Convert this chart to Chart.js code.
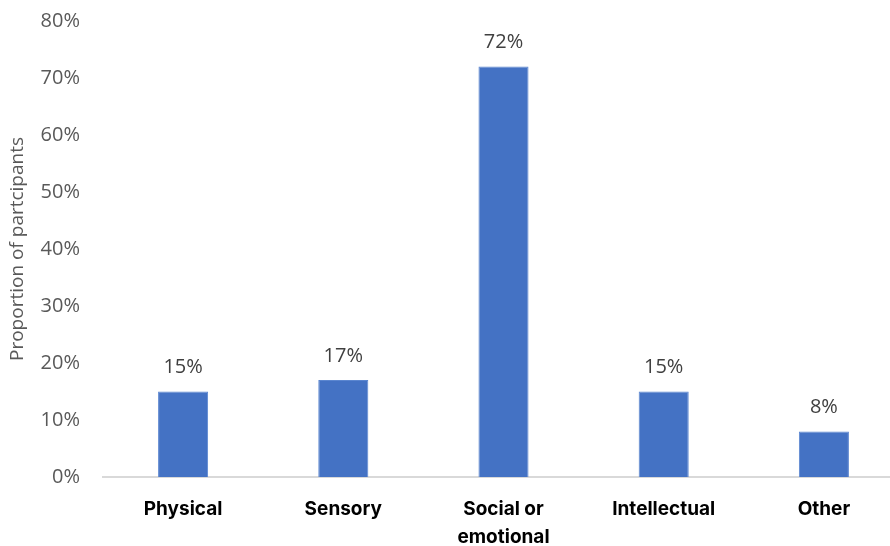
<!DOCTYPE html>
<html>
<head>
<meta charset="utf-8">
<script src="https://cdn.jsdelivr.net/npm/chart.js@4.4.1/dist/chart.umd.min.js"></script>
<style>
  html, body { margin: 0; padding: 0; background: #fff; overflow: hidden; }
  /* el lienzo es algo mas ancho que la ventana: el eje x queda cortado a la derecha */
  #wrap { width: 904px; height: 546px; position: relative; }
</style>
</head>
<body>
<div id="wrap"><canvas id="myChart"></canvas></div>
<script>
const categorias = ["Physical", "Sensory", ["Social or", "emotional"], "Intellectual", "Other"];
const porcentajes = [15, 17, 72, 15, 8];
const ticksY = [0, 10, 20, 30, 40, 50, 60, 70, 80];

(() => {
    const ctx = document.getElementById('myChart').getContext('2d');

    // etiquetas con el valor encima de cada barra
    const etiquetasBarras = {
        id: 'etiquetasBarras',
        afterDatasetsDraw(chart) {
            const c = chart.ctx;
            const meta = chart.getDatasetMeta(0);
            c.save();
            c.font = '20px "Open Sans"';
            c.fillStyle = '#404040';
            c.textAlign = 'center';
            c.textBaseline = 'middle';
            meta.data.forEach((bar, i) => {
                c.fillText(porcentajes[i] + '%', bar.x, bar.y - 24);
            });
            c.restore();
        }
    };

    new Chart(ctx, {
        type: 'bar',
        data: {
            labels: categorias,
            datasets: [{
                data: porcentajes,
                backgroundColor: '#4472C4',
                borderColor: '#5b86d0',
                borderWidth: 1,
                barPercentage: 0.625,
                categoryPercentage: 0.5
            }]
        },
        options: {
            responsive: true,
            maintainAspectRatio: false,
            animation: false,
            layout: { padding: { top: 21, right: 0, left: 6, bottom: 0 } },
            plugins: {
                legend: { display: false },
                tooltip: { enabled: false }
            },
            scales: {
                y: {
                    min: 0,
                    max: 80,
                    afterBuildTicks: (axis) => { axis.ticks = ticksY.map(v => ({ value: v })); },
                    afterFit: (axis) => {
                        axis.width = 97;
                        axis.paddingTop = 0;
                        axis.paddingBottom = 0;
                    },
                    grid: { display: false, drawTicks: false },
                    border: { display: false },
                    ticks: {
                        padding: 23,
                        color: '#595959',
                        font: { family: 'Open Sans', size: 20 },
                        callback: (v) => v + '%'
                    },
                    title: {
                        display: true,
                        text: 'Proportion of partcipants',
                        color: '#595959',
                        font: { family: 'Open Sans', size: 19 },
                        padding: { top: 0, bottom: 4 }
                    }
                },
                x: {
                    afterFit: (axis) => {
                        axis.height = 69;
                        axis.paddingLeft = 0;
                        axis.paddingRight = 0;
                    },
                    grid: { display: false, drawTicks: false },
                    border: { display: true, color: '#d9d9d9', width: 2 },
                    ticks: {
                        padding: 18,
                        color: '#000000',
                        maxRotation: 0,
                        font: { family: 'Inter', size: 19, weight: 'bold', lineHeight: 1.5 }
                    }
                }
            }
        },
        plugins: [etiquetasBarras]
    });
})();
</script>
</body>
</html>
